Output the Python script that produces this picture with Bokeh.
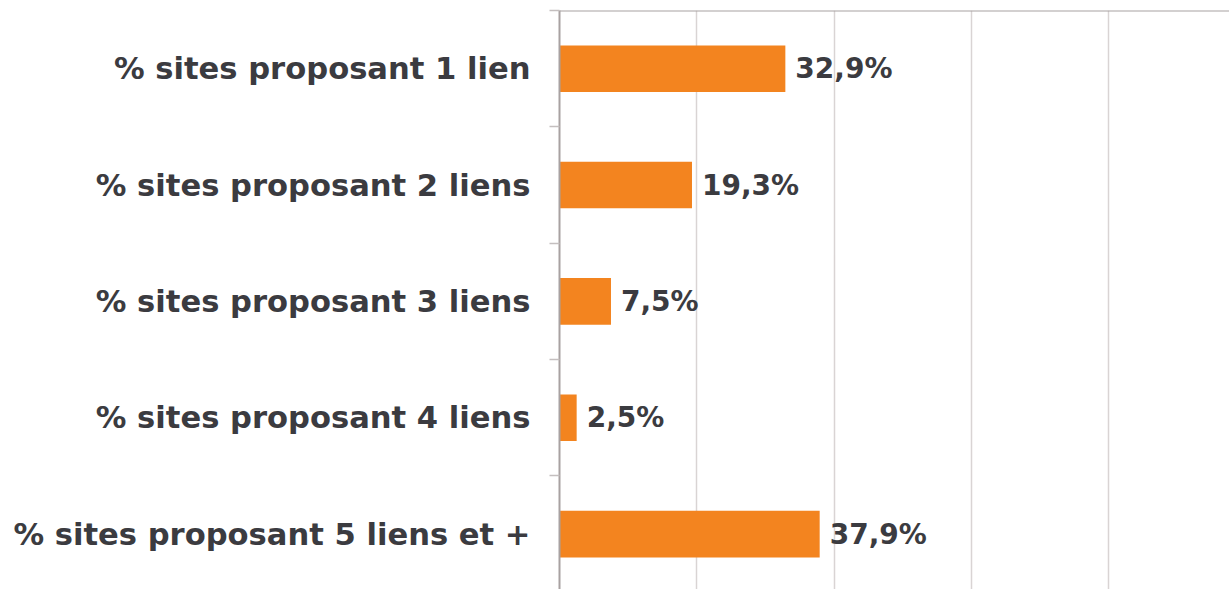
from bokeh.plotting import figure
from bokeh.models import Range1d, FixedTicker, Span, ColumnDataSource
from bokeh.core.properties import value
from bokeh.embed import file_html
from bokeh.resources import INLINE

categories = [
    "% sites proposant 1 lien",
    "% sites proposant 2 liens",
    "% sites proposant 3 liens",
    "% sites proposant 4 liens",
    "% sites proposant 5 liens et +",
]
values = [32.9, 19.3, 7.5, 2.5, 37.9]
value_labels = [f"{v:.1f}".replace(".", ",") + "%" for v in values]
grid_ticks = [20, 40, 60, 80, 100]

positions = list(range(1, len(categories) + 1))
boundaries = [i - 0.5 for i in positions]

src = ColumnDataSource(dict(y=positions, v=values, lab=value_labels))

W, H = 1229, 589
p = figure(width=W, height=H, output_backend="svg", toolbar_location=None,
           x_range=Range1d(0, 97.6), y_range=Range1d(5.476, 0.5),
           min_border_left=559, min_border_right=0, min_border_top=10,
           min_border_bottom=0)
p.outline_line_color = None
p.background_fill_color = "white"

p.hbar(y="y", right="v", left=0, height=0.4, source=src,
       fill_color="#F3841F", line_color=None)

p.text(x="v", y="y", text="lab", source=src, x_offset=10,
       text_baseline="middle", text_align="left",
       text_font=value("DejaVu Sans"), text_font_style="bold",
       text_font_size="28px", text_color="#3B3B40")

# x axis hidden, grid lines only
p.xaxis.visible = False
p.xgrid.ticker = FixedTicker(ticks=grid_ticks)
p.xgrid.grid_line_color = "#D9D4D4"
p.xgrid.grid_line_width = 1.5
p.ygrid.visible = False

yaxis = p.yaxis[0]
yaxis.ticker = FixedTicker(ticks=positions, minor_ticks=boundaries)
yaxis.major_label_overrides = {pos: c for pos, c in zip(positions, categories)}
yaxis.major_tick_line_color = None
yaxis.major_tick_out = 0
yaxis.major_tick_in = 0
yaxis.minor_tick_line_color = "#C4BFBF"
yaxis.minor_tick_line_width = 1.5
yaxis.minor_tick_out = 10
yaxis.minor_tick_in = 0
yaxis.axis_line_color = "#A8A1A1"
yaxis.axis_line_width = 2
yaxis.major_label_standoff = 19
yaxis.major_label_text_font = "DejaVu Sans"
yaxis.major_label_text_font_style = "bold"
yaxis.major_label_text_font_size = "30.6px"
yaxis.major_label_text_color = "#3B3B40"

top_line = Span(location=0.5, dimension="width", line_color="#A8A1A1",
                line_width=2)
p.add_layout(top_line)

open("out.html", "w").write(file_html(p, INLINE))
